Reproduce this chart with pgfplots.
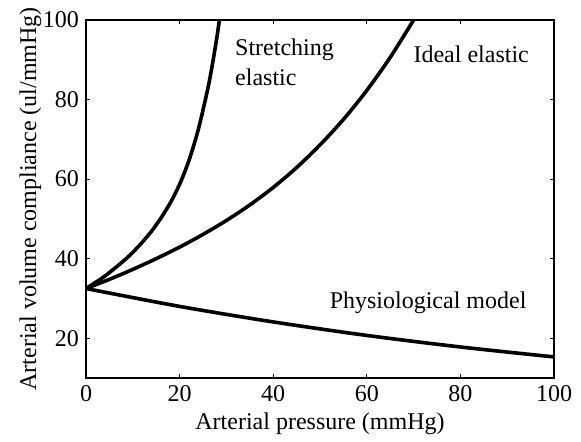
\documentclass[border=0pt]{standalone}
\usepackage{pgfplots}
\pgfplotsset{compat=1.18}
\usepackage{fontspec}
\setmainfont{Liberation Serif}
\begin{document}
\begin{tikzpicture}
    \begin{axis}[
        name=ax,
        scale only axis,
        width=234pt,
        height=179pt,
        xmin=0, xmax=100,
        ymin=10, ymax=100,
        xtick={0,20,40,60,80,100},
        xticklabels={0,20,40,60,80,100},
        ytick={20,40,60,80,100},
        yticklabels={20,40,60,80,100},
        tick pos=both,
        tick align=inside,
        major tick length=2.2pt,
        axis line style={line width=0.6pt},
        every tick/.style={black, line width=0.5pt},
        font=\fontsize{12}{14}\selectfont,
        xlabel={Arterial pressure (mmHg)},
        ylabel={Arterial volume compliance (ul/mmHg)},
        xlabel style={yshift=1pt},
        ylabel style={yshift=-6pt},
        cycle list={{black, no markers}},
        every axis plot/.append style={line width=1.8pt, smooth},
    ]
    % stretching elastic
    \addplot coordinates {
        (0,32.5) (4,35.6) (8,39.4) (10,41.6) (12,44.1) (14,46.9) (16,50.2)
        (18,54.0) (20,58.7) (22,64.7) (24,72.5) (26,82.6) (27,88.8) (28,95.9) (28.5,100)
    };
    % ideal elastic
    \addplot coordinates {
        (0,32.5) (5,34.8) (10,37.3) (15,40.0) (20,42.9) (25,46.1) (30,49.6)
        (35,53.5) (40,57.9) (45,62.9) (50,68.6) (55,75.0) (60,82.3) (65,90.6) (70,100)
    };
    % physiological model
    \addplot coordinates {
        (0,32.5) (20,28.0) (40,24.1) (60,20.7) (80,17.8) (100,15.3)
    };
    \node[anchor=base west, inner sep=0pt] at (axis cs:31.8,91.2) {Stretching};
    \node[anchor=base west, inner sep=0pt] at (axis cs:31.8,83.6) {elastic};
    \node[anchor=base west, inner sep=0pt] at (axis cs:69.9,89.2) {Ideal elastic};
    \node[anchor=base west, inner sep=0pt] at (axis cs:52,27.5) {Physiological model};
    \end{axis}
    \path[use as bounding box] ([xshift=-43pt,yshift=-29pt]ax.south west)
        rectangle ([xshift=13.5pt,yshift=10pt]ax.north east);
\end{tikzpicture}
\end{document}
